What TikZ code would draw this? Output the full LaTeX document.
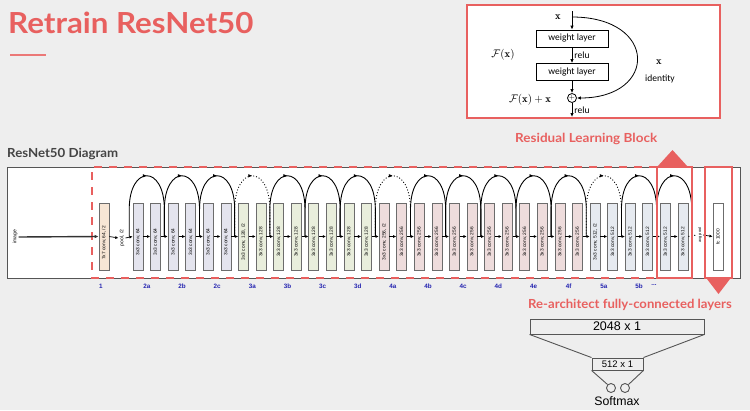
\documentclass[tikz,border=0pt]{standalone}
\usepackage{fontspec}
\usetikzlibrary{arrows.meta,decorations.markings}
\newfontfamily\latof{Lato}
\newfontfamily\arialf{Liberation Sans}
\newfontfamily\calf{Carlito}
\definecolor{bg}{HTML}{EEEEEE}
\definecolor{myred}{HTML}{E8605F}
\definecolor{c64}{HTML}{E4E4EE}
\definecolor{c128}{HTML}{E9EEDC}
\definecolor{c256}{HTML}{EEDCDC}
\definecolor{c512}{HTML}{E6EAF0}
\definecolor{c7}{HTML}{F7E6D5}
\definecolor{lblue}{HTML}{2424B0}
\definecolor{dgray}{HTML}{555555}
\begin{document}
\begin{tikzpicture}[x=1pt,y=-1pt,
  blockbox/.style={draw=gray!85!black, line width=0.7pt, minimum width=10pt, minimum height=67pt, inner sep=0pt},
  blocktxt/.style={rotate=90, font=\arialf\fontsize{4.8}{5}\selectfont, inner sep=0.5pt},
  smalltxt/.style={rotate=90, font=\arialf\fontsize{4.6}{5}\selectfont, inner sep=1pt},
  arr/.style={-{Latex[length=3.2pt,width=3pt]}, line width=0.7pt},
  rarr/.style={-{Latex[length=4pt,width=3.5pt]}, line width=0.8pt},
  skiparc/.style={line width=0.9pt, decoration={markings, mark=at position 0.5 with {\arrow{Latex[length=4pt,width=3.5pt]}}}, postaction={decorate}},
  stagelbl/.style={font=\arialf\bfseries\fontsize{6.3}{7}\selectfont, text=lblue, inner sep=0pt},
  wbox/.style={draw, line width=0.8pt, minimum width=72pt, minimum height=17pt, inner sep=0pt, fill=white, font=\calf\fontsize{9.5}{10}\selectfont},
  rtxt/.style={font=\calf\fontsize{9.5}{10}\selectfont, inner sep=1pt},
  redlbl/.style={font=\latof\bfseries\fontsize{12.5}{13}\selectfont, text=myred, inner sep=0pt, anchor=base west}
]
\fill[bg] (0,0) rectangle (750,410);
\useasboundingbox (0,0) rectangle (750,410);

% Title
\node[anchor=base west, font=\latof\bfseries\fontsize{29}{31}\selectfont, text=myred, inner sep=0pt, xscale=1.08] (title) at (8,33) {Retrain ResNet50};
\draw[myred!85, line width=1.2pt] (10,55) -- (46,55);

% Residual block
\draw[myred, line width=1.6pt, fill=white] (467,5) rectangle (720,118);
\node[font=\fontsize{10.5}{11}\selectfont, inner sep=0pt] (xin) at (558,17) {$\mathbf{x}$};
\coordinate (xtop) at (572,11);
\coordinate (xj) at (572,17);
\node[wbox] (w1) at (572,38.5) {weight layer};
\node[wbox] (w2) at (572,72) {weight layer};
\node[circle, draw, line width=0.8pt, minimum size=9pt, inner sep=0pt, font=\scriptsize] (plus) at (572,98) {$+$};
\coordinate (rout) at (572,117);
\draw[rarr] (xtop) -- (w1);
\draw[rarr] (w1) -- (w2) node[midway, right, rtxt, xshift=1pt] (relu1) {relu};
\draw[rarr] (w2) -- (plus);
\draw[rarr] (plus) -- (rout) node[midway, right, rtxt, xshift=1pt] (relu2) {relu};
\draw[rarr] (xj) .. controls (658,17) and (658,98) .. (plus.east);
\node[font=\fontsize{10.5}{11}\selectfont] (fx) at (503,55) {$\mathcal{F}(\mathbf{x})$};
\node[font=\fontsize{10.5}{11}\selectfont] (fxx) at (530,100) {$\mathcal{F}(\mathbf{x})+\mathbf{x}$};
\node[font=\fontsize{10.5}{11}\selectfont, inner sep=0pt] (xid) at (659,62) {$\mathbf{x}$};
\node[rtxt] (idt) at (660,79) {identity};

% labels
\node[anchor=base west, font=\latof\bfseries\fontsize{12.5}{13}\selectfont, text=dgray!80!black, inner sep=0pt, xscale=1.06] (diag) at (7,157) {ResNet50 Diagram};
\node[redlbl, xscale=1.08] (rlb) at (515,142) {Residual Learning Block};
\node[redlbl, xscale=1.05] (rfc) at (528,308) {Re-architect fully-connected layers};

% outer box
\draw[dgray, line width=0.8pt, fill=white] (7,167) rectangle (740,278);
\draw[myred, line width=2.2pt, dash pattern=on 8pt off 7pt] (657,167) -- (92,167) -- (92,278) -- (657,278);

% input
\node[smalltxt, font=\arialf\fontsize{5}{6}\selectfont] (img) at (15,237) {image};
\node[blockbox, fill=c7] (b7) at (104,236.5) {};
\node[blocktxt] (t7) at (104,243) {7x7 conv, 64, /2};
\node[smalltxt, font=\arialf\fontsize{5}{6}\selectfont] (pool) at (122,238) {pool, /2};
\draw[-{Latex[length=4pt,width=3.5pt]}, line width=1.4pt, dgray!60!black] (img.south) -- (b7.west);
\draw[arr] (b7.east) -- (pool.north);

% blocks
\foreach \k in {0,...,31}{
  \pgfmathsetmacro\cx{138+17.58*\k}
  \ifnum\k<6 \def\nn{64}\def\cc{c64}\else\ifnum\k<14 \def\nn{128}\def\cc{c128}\else\ifnum\k<26 \def\nn{256}\def\cc{c256}\else\def\nn{512}\def\cc{c512}\fi\fi\fi
  \def\sfx{}
  \ifnum\k=6 \def\sfx{, /2}\fi
  \ifnum\k=14 \def\sfx{, /2}\fi
  \ifnum\k=26 \def\sfx{, /2}\fi
  \node[blockbox, fill=\cc] (b\k) at (\cx,236.5) {};
  \node[blocktxt] (t\k) at (\cx,242) {3x3 conv, \nn\sfx};
}
\foreach \k in {0,...,32}{
  \pgfmathsetmacro\jx{138+17.58*\k-8.79}
  \coordinate (J\k) at (\jx,236.5);
  \coordinate (T\k) at (\jx,209.5);
}
\draw[arr] (pool.south) -- (b0.west);
\foreach \k in {0,...,30}{
  \pgfmathtruncatemacro\n{\k+1}
  \draw[arr] (b\k.east) -- (b\n.west);
}
\foreach \p in {0,...,15}{
  \pgfmathtruncatemacro\a{2*\p}
  \pgfmathtruncatemacro\b{2*\p+2}
  \ifnum\p=3 \def\dd{dotted}\else\ifnum\p=7 \def\dd{dotted}\else\ifnum\p=13 \def\dd{dotted}\else\def\dd{solid}\fi\fi\fi
  \draw[skiparc, \dd] (J\a) -- (T\a) .. controls +(0,-45) and +(0,-45) .. (T\b) -- (J\b);
}
% tail
\node[smalltxt, font=\arialf\fontsize{4}{5}\selectfont] (avg) at (700,235) {avg pool};
\node[blockbox, fill=white] (fcb) at (718,236.5) {};
\node[blocktxt] (tfc) at (718,237) {fc 1000};
\draw[dotted, line width=1pt] (b31.east) -- (avg.north);
\draw[arr] (avg.south) -- (fcb.west);

% stage labels
\node[stagelbl] (s1) at (101,286) {1};
\foreach \p/\lab in {0/2a,1/2b,2/2c,3/3a,4/3b,5/3c,6/3d,7/4a,8/4b,9/4c,10/4d,11/4e,12/4f,13/5a,14/5b}{
  \pgfmathsetmacro\lx{138+17.58*(2*\p+0.5)}
  \node[stagelbl] (s\lab) at (\lx,286) {\lab};
}
\node[stagelbl] (sdots) at (654,285) {...};

% red highlight boxes
\draw[myred, line width=2pt] (657,167) rectangle (692,278);
\draw[myred, line width=2pt] (705,167) rectangle (732,278);
\fill[myred] (657,167) -- (688,167) -- (672.5,150) -- cycle;
\fill[myred] (707,279) -- (730,279) -- (718.5,294) -- cycle;

% fc re-architecture
\node[draw=dgray, line width=0.9pt, minimum width=174pt, minimum height=15pt, inner sep=0pt, font=\arialf\fontsize{12.5}{13}\selectfont] (fcbig) at (617,326.5) {2048 x 1};
\node[draw=dgray, line width=0.9pt, minimum width=51pt, minimum height=12pt, inner sep=0pt, font=\arialf\fontsize{9.5}{10}\selectfont] (fcsm) at (617.5,364) {512 x 1};
\draw[dgray, line width=0.9pt] (fcbig.south west) -- (fcsm.north west);
\draw[dgray, line width=0.9pt] (fcbig.south east) -- (fcsm.north east);
\node[circle, draw=dgray, line width=0.9pt, minimum size=9pt, inner sep=0pt] (o1) at (611,388) {};
\node[circle, draw=dgray, line width=0.9pt, minimum size=9pt, inner sep=0pt] (o2) at (625,388) {};
\draw[dgray, line width=0.9pt] (fcsm.south west) -- (o1.north west);
\draw[dgray, line width=0.9pt] (fcsm.south east) -- (o2.north east);
\node[font=\arialf\fontsize{12.3}{13}\selectfont, inner sep=0pt] (smax) at (617,401) {Softmax};
\end{tikzpicture}
\end{document}
